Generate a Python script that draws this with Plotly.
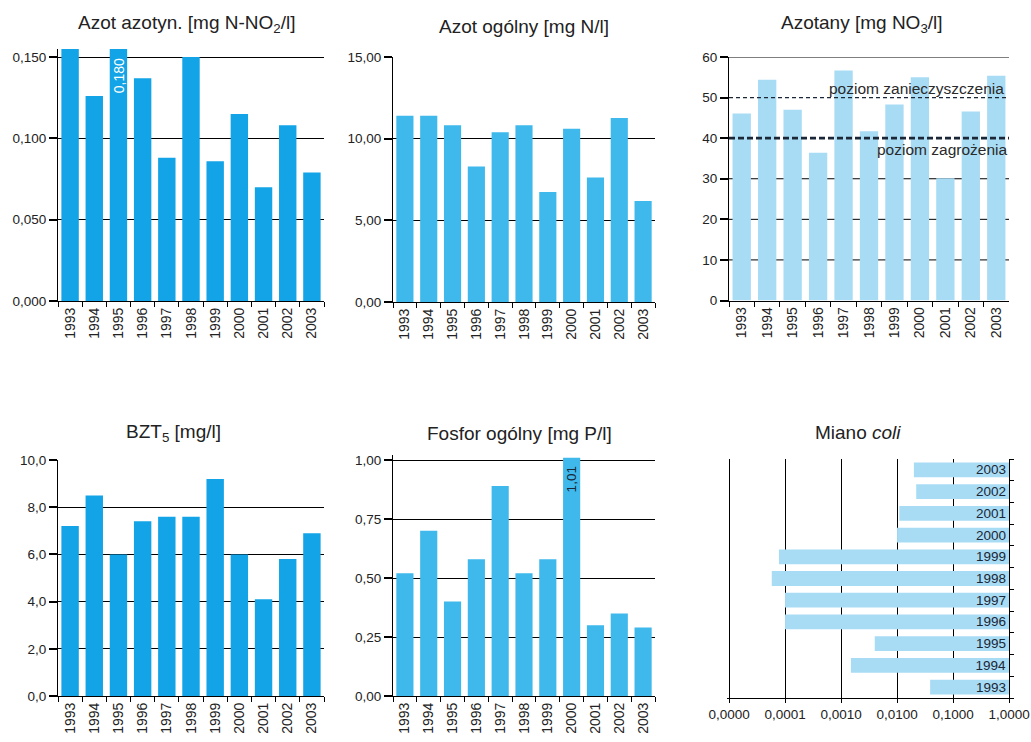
import plotly.graph_objects as go

# ---------------- data ----------------
years = ['1993', '1994', '1995', '1996', '1997', '1998', '1999', '2000', '2001', '2002', '2003']
azot_azotyn = [0.155, 0.126, 0.180, 0.137, 0.088, 0.150, 0.086, 0.115, 0.070, 0.108, 0.079]
azot_ogolny = [11.40, 11.40, 10.82, 8.29, 10.40, 10.82, 6.73, 10.60, 7.62, 11.27, 6.18]
azotany = [46.1, 54.4, 47.0, 36.4, 56.7, 41.7, 48.3, 55.0, 30.1, 46.6, 55.4]
bzt5 = [7.2, 8.5, 6.0, 7.4, 7.6, 7.6, 9.2, 6.0, 4.1, 5.8, 6.9]
fosfor = [0.52, 0.70, 0.40, 0.58, 0.89, 0.52, 0.58, 1.01, 0.30, 0.35, 0.29]
miano_coli = [0.039, 0.0015, 0.004, 0.0001, 0.0001, 0.000058, 0.000078, 0.0100, 0.011, 0.022, 0.020]

poziom_zanieczyszczenia = 50
poziom_zagrozenia = 40

coli_ticks = [0.00001, 0.0001, 0.001, 0.01, 0.1, 1.0]
coli_ticktext = ['0,0000', '0,0001', '0,0010', '0,0100', '0,1000', '1,0000']

# ---------------- style ----------------
W, H = 1031, 742
C_DARK = '#12A4E6'
C_MID = '#3FB9EC'
C_LIGHT = '#A8DCF5'
FONT = 'Liberation Sans, Arial, sans-serif'
TXT = '#222222'
NCAT = len(years)


def px_x(a, b):
    return [a / W, b / W]


def px_y(top, bottom):
    return [1 - bottom / H, 1 - top / H]


fig = go.Figure()

panels = [
    dict(n=1, vals=azot_azotyn, color=C_DARK, dx=px_x(58, 324), dy=px_y(48.9, 301),
         rng=[0, 0.155], tick=[0, 0.05, 0.10, 0.15], fmt='.3f'),
    dict(n=2, vals=azot_ogolny, color=C_MID, dx=px_x(393, 655), dy=px_y(57, 302),
         rng=[0, 15], tick=[0, 5, 10, 15], fmt='.2f'),
    dict(n=3, vals=azotany, color=C_LIGHT, dx=px_x(729, 1009), dy=px_y(57, 300.5),
         rng=[0, 60], tick=[0, 10, 20, 30, 40, 50, 60], fmt='d'),
    dict(n=4, vals=bzt5, color=C_DARK, dx=px_x(58, 324), dy=px_y(460, 696),
         rng=[0, 10], tick=[0, 2, 4, 6, 8, 10], fmt='.1f'),
    dict(n=5, vals=fosfor, color=C_MID, dx=px_x(393, 655), dy=px_y(455.3, 696),
         rng=[0, 1.02], tick=[0, 0.25, 0.5, 0.75, 1.0], fmt='.2f'),
]

layout = dict(
    width=W, height=H, margin=dict(l=0, r=0, t=0, b=0),
    paper_bgcolor='white', plot_bgcolor='white', showlegend=False,
    separators=', ', font=dict(family=FONT, color=TXT, size=13),
)

for p in panels:
    n = p['n']
    sx = '' if n == 1 else str(n)
    fig.add_trace(go.Bar(x=years, y=p['vals'], marker=dict(color=p['color'], line=dict(width=0)),
                         xaxis='x' + sx, yaxis='y' + sx, width=0.72))
    layout['xaxis' + sx] = dict(
        domain=p['dx'], anchor='y' + sx, type='category', range=[-0.5, NCAT - 0.5],
        showline=True, linecolor='black',
        linewidth=1, ticks='outside', tickson='boundaries', ticklen=5, tickcolor='black',
        tickangle=-90, tickfont=dict(size=14, color=TXT), showgrid=False, automargin=False,
        fixedrange=True)
    layout['yaxis' + sx] = dict(
        domain=p['dy'], anchor='x' + sx, range=p['rng'], tickvals=p['tick'], tickformat=p['fmt'],
        showline=True, linecolor='black', linewidth=1, ticks='outside', ticklen=8,
        tickwidth=1.5,
        tickcolor='black', tickfont=dict(size=13.5, color=TXT), showgrid=(n != 3),
        gridcolor='black', gridwidth=1, zeroline=False, automargin=False, fixedrange=True)

# Azotany: solid gridlines behind bars except at threshold levels
for t in [10, 20, 30, 60]:
    fig.add_shape(type='line', xref='x3 domain', yref='y3', x0=0, x1=1, y0=t, y1=t,
                  line=dict(color='black', width=1), layer='below')
fig.add_shape(type='line', xref='x3 domain', yref='y3', x0=0, x1=1,
              y0=poziom_zanieczyszczenia, y1=poziom_zanieczyszczenia,
              line=dict(color='#1b2636', width=1.3, dash='4px,3px'), layer='above')
fig.add_shape(type='line', xref='x3 domain', yref='y3', x0=0, x1=1,
              y0=poziom_zagrozenia, y1=poziom_zagrozenia,
              line=dict(color='#1b2636', width=2.6, dash='6px,3px'), layer='above')
fig.add_annotation(xref='x3 domain', yref='y3', x=0.99, y=poziom_zanieczyszczenia, xanchor='right',
                   yanchor='bottom', text='poziom zanieczyszczenia', showarrow=False,
                   font=dict(size=15.5, color='#2a2a2a'), yshift=-1)
fig.add_annotation(xref='x3 domain', yref='y3', x=1.0, y=poziom_zagrozenia, xanchor='right',
                   yanchor='top', text='poziom zagrożenia', showarrow=False,
                   font=dict(size=15.5, color='#2a2a2a'), yshift=-1)

# Miano coli: horizontal bars from value to 1 on log axis, year written inside bar end
fig.add_trace(go.Bar(y=years, x=[1 - v for v in miano_coli], base=miano_coli, orientation='h',
                     marker=dict(color=C_LIGHT, line=dict(width=0)), xaxis='x6', yaxis='y6',
                     width=0.68, text=years, textposition='inside', insidetextanchor='end',
                     textangle=0, constraintext='none',
                     textfont=dict(size=13.5, color='#1b2636', family=FONT)))
layout['xaxis6'] = dict(domain=px_x(726.5, 1009.2), anchor='y6', type='log', range=[-5.045, 0.003],
                        tickvals=coli_ticks, ticktext=coli_ticktext, showline=True,
                        linecolor='black', ticks='outside', ticklen=4, tickcolor='black',
                        ticklabeloverflow='allow',
                        tickfont=dict(size=13.5, color=TXT), showgrid=True, gridcolor='black',
                        gridwidth=1, zeroline=False, automargin=False, fixedrange=True)
layout['yaxis6'] = dict(domain=px_y(459, 698), anchor='x6', type='category', side='right',
                        range=[-0.5, NCAT - 0.5], showticklabels=False,
                        showline=True, linecolor='black',
                        ticks='outside', tickson='boundaries', ticklen=4, tickcolor='black',
                        showgrid=False, automargin=False, fixedrange=True)

# value labels for clipped / top bars (x given as category index)
fig.add_annotation(xref='x', yref='y', x=years.index('1995'), y=0.1505, yanchor='top',
                   xanchor='center',
                   text=f"{azot_azotyn[2]:.3f}".replace('.', ','), textangle=-90,
                   showarrow=False, font=dict(size=14, color='white'))
fig.add_annotation(xref='x5', yref='y5', x=years.index('2000'), y=fosfor[7] - 0.03,
                   yanchor='top', xanchor='center',
                   text=f"{fosfor[7]:.2f}".replace('.', ','), textangle=-90,
                   showarrow=False, font=dict(size=13.5, color='#1b2636'))

# titles
titles = [
    ('Azot azotyn. [mg N-NO<sub>2</sub>/l]', 187, 24),
    ('Azot ogólny [mg N/l]', 524, 26),
    ('Azotany [mg NO<sub>3</sub>/l]', 862, 24),
    ('BZT<sub>5</sub> [mg/l]', 173, 433),
    ('Fosfor ogólny [mg P/l]', 519, 433),
    ('Miano <i>coli</i>', 858, 432),
]
for t, cx, cy in titles:
    fig.add_annotation(xref='paper', yref='paper', x=cx / W, y=1 - cy / H, xanchor='center',
                       yanchor='middle', text=t, showarrow=False,
                       font=dict(size=19, color=TXT))

fig.update_layout(**layout)
fig.write_html('out.html', config={'displayModeBar': False},
               post_script="document.body.style.margin='0';document.body.style.overflow='hidden';")
